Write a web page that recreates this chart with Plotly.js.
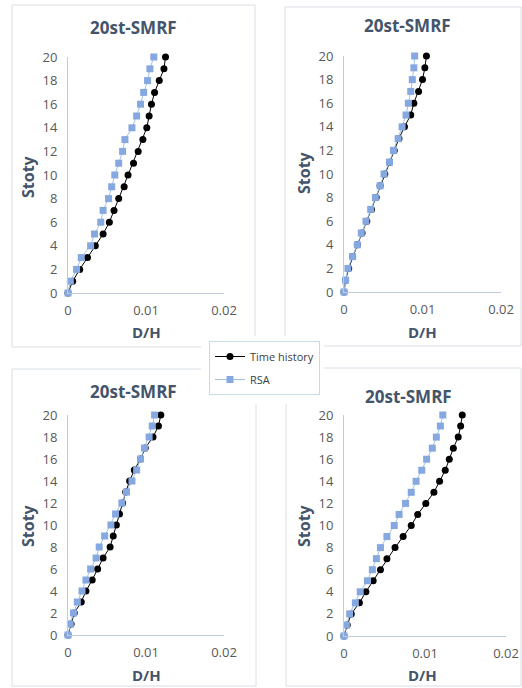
<!DOCTYPE html>
<html>
<head>
<meta charset="utf-8">
<script src="https://cdn.plot.ly/plotly-3.0.1.min.js"></script>
<style>
  html, body { margin: 0; padding: 0; background: #ffffff; }
  #chart { width: 522px; height: 688px; }
</style>
</head>
<body>
<div id="chart"></div>
<script>
// Story levels (0 = base, 20 = roof)
const stories = [0, 1, 2, 3, 4, 5, 6, 7, 8, 9, 10, 11, 12, 13, 14, 15, 16, 17, 18, 19, 20];

// Drift ratio D/H per story, four record sets
const th1  = [0, 0.0006, 0.0015, 0.0025, 0.0035, 0.0045, 0.0053, 0.0059, 0.0065, 0.0072, 0.0077, 0.0084, 0.0090, 0.0096, 0.0101, 0.0104, 0.0107, 0.0111, 0.0117, 0.0123, 0.0125];
const rsa1 = [0, 0.0003, 0.0011, 0.0017, 0.0029, 0.0034, 0.0042, 0.0045, 0.0052, 0.0056, 0.0060, 0.0065, 0.0070, 0.0073, 0.0082, 0.0088, 0.0093, 0.0097, 0.0102, 0.0105, 0.0110];

const th2  = [0, 0.0002, 0.0006, 0.0011, 0.0017, 0.0023, 0.0029, 0.0035, 0.0041, 0.0046, 0.0052, 0.0058, 0.0064, 0.0070, 0.0077, 0.0085, 0.0089, 0.0095, 0.0100, 0.0103, 0.0105];
const rsa2 = [0, 0.0002, 0.0005, 0.0011, 0.0017, 0.0022, 0.0028, 0.0034, 0.0040, 0.0046, 0.0051, 0.0058, 0.0063, 0.0069, 0.0074, 0.0079, 0.0082, 0.0085, 0.0087, 0.0089, 0.0090];

const th3  = [0, 0.0004, 0.0008, 0.0017, 0.0023, 0.0031, 0.0038, 0.0045, 0.0054, 0.0058, 0.0062, 0.0066, 0.0070, 0.0074, 0.0079, 0.0085, 0.0093, 0.0099, 0.0109, 0.0116, 0.0119];
const rsa3 = [0, 0.0003, 0.0007, 0.0012, 0.0018, 0.0023, 0.0029, 0.0036, 0.0040, 0.0047, 0.0055, 0.0061, 0.0069, 0.0075, 0.0082, 0.0088, 0.0093, 0.0098, 0.0104, 0.0108, 0.0111];

const th4  = [0, 0.0004, 0.0009, 0.0019, 0.0027, 0.0036, 0.0045, 0.0053, 0.0063, 0.0073, 0.0083, 0.0091, 0.0101, 0.0111, 0.0118, 0.0125, 0.0130, 0.0135, 0.0141, 0.0144, 0.0146];
const rsa4 = [0, 0.0003, 0.0007, 0.0014, 0.0020, 0.0029, 0.0035, 0.0040, 0.0045, 0.0053, 0.0062, 0.0068, 0.0076, 0.0083, 0.0089, 0.0096, 0.0102, 0.0109, 0.0114, 0.0119, 0.0122];

const seriesNames = ['Time history', 'RSA'];
const panelTitle = '20st-SMRF';
const xTitle = 'D/H';
const yTitle = 'Stoty';
const xTicks = [0, 0.01, 0.02];
const xTickText = ['0', '0.01', '0.02'];
const yTicks = [0, 2, 4, 6, 8, 10, 12, 14, 16, 18, 20];

const W = 522, H = 688;
const px = v => v / W;
const py = v => 1 - v / H;

const BLACK = '#000000';
const BLUE = '#86A8E0';
const TEXT = '#44546A';
const TICK = '#595959';
const AXIS = '#BFCADC';
const FRAME = '#D9DEE6';

// Panel geometry in pixels: plot area + frame + label anchors
const panels = [
  { th: th1, rsa: rsa1, x0: 68,  x1: 224, yb: 293, yt: 57,  frame: [12, 5, 255, 347],  title: [133, 28],  xt: [146, 332], yt2: [28, 177] },
  { th: th2, rsa: rsa2, x0: 344, x1: 501, yb: 292, yt: 56,  frame: [285, 7, 521, 346], title: [407, 26],  xt: [422, 332], yt2: [304, 173] },
  { th: th3, rsa: rsa3, x0: 68,  x1: 224, yb: 635, yt: 415, frame: [12, 369, 256, 686], title: [133, 391], xt: [146, 675], yt2: [28, 526] },
  { th: th4, rsa: rsa4, x0: 344, x1: 506, yb: 636, yt: 415, frame: [286, 368, 521, 686], title: [408, 396], xt: [422, 675], yt2: [304, 526] }
];

const data = [];
const layout = {
  width: W, height: H,
  margin: { l: 0, r: 0, t: 0, b: 0 },
  paper_bgcolor: '#ffffff',
  plot_bgcolor: 'rgba(0,0,0,0)',
  font: { family: 'Open Sans, Liberation Sans, sans-serif', color: TICK },
  showlegend: true,
  legend: {
    x: px(209), y: py(341), xanchor: 'left', yanchor: 'top',
    bgcolor: '#ffffff', bordercolor: '#C6DCE4', borderwidth: 1,
    font: { size: 11, color: '#404040' },
    itemwidth: 30, tracegroupgap: 4
  },
  shapes: [],
  annotations: []
};

panels.forEach((p, i) => {
  const n = i === 0 ? '' : String(i + 1);
  const xa = 'x' + n, ya = 'y' + n;
  data.push({
    x: p.th, y: stories, xaxis: xa, yaxis: ya,
    name: seriesNames[0], legendgroup: 'th', showlegend: i === 0,
    mode: 'lines+markers', cliponaxis: false,
    line: { color: BLACK, width: 1 },
    marker: { color: BLACK, size: 7, symbol: 'circle' }
  });
  data.push({
    x: p.rsa, y: stories, xaxis: xa, yaxis: ya,
    name: seriesNames[1], legendgroup: 'rsa', showlegend: i === 0,
    mode: 'lines+markers', cliponaxis: false,
    line: { color: '#9DC3E6', width: 1 },
    marker: { color: BLUE, size: 7, symbol: 'square' }
  });

  const axBase = {
    showgrid: false, zeroline: false, showline: true,
    linecolor: AXIS, linewidth: 1, ticks: '',
    tickfont: { size: 13, color: TICK }, fixedrange: true
  };
  layout['xaxis' + n] = Object.assign({}, axBase, {
    domain: [px(p.x0), px(p.x1)], anchor: ya, range: [0, 0.02],
    tickmode: 'array', tickvals: xTicks, ticktext: xTickText,
    ticklabelstandoff: 5
  });
  layout['yaxis' + n] = Object.assign({}, axBase, {
    domain: [py(p.yb), py(p.yt)], anchor: xa, range: [0, 20],
    tickmode: 'array', tickvals: yTicks,
    ticklabelstandoff: 7
  });

  // panel frame
  layout.shapes.push({
    type: 'rect', xref: 'paper', yref: 'paper', layer: 'below',
    x0: px(p.frame[0]), x1: px(p.frame[2]), y0: py(p.frame[3]), y1: py(p.frame[1]),
    line: { color: FRAME, width: 1 }, fillcolor: 'rgba(0,0,0,0)'
  });

  layout.annotations.push({
    text: panelTitle, xref: 'paper', yref: 'paper',
    x: px(p.title[0]), y: py(p.title[1]), xanchor: 'center', yanchor: 'middle',
    showarrow: false, font: { size: 17, color: TEXT, family: 'Open Sans, sans-serif', weight: 'bold' }
  });
  layout.annotations.push({
    text: xTitle, xref: 'paper', yref: 'paper',
    x: px(p.xt[0]), y: py(p.xt[1]), xanchor: 'center', yanchor: 'middle',
    showarrow: false, font: { size: 15, color: TEXT, family: 'Open Sans, sans-serif', weight: 'bold' }
  });
  layout.annotations.push({
    text: yTitle, xref: 'paper', yref: 'paper', textangle: -90,
    x: px(p.yt2[0]), y: py(p.yt2[1]), xanchor: 'center', yanchor: 'middle',
    showarrow: false, font: { size: 16, color: TEXT, family: 'Open Sans, sans-serif', weight: 'bold' }
  });
});

// white backing behind the legend, hiding frame lines underneath
layout.shapes.push({
  type: 'rect', xref: 'paper', yref: 'paper', layer: 'above',
  x0: px(201), x1: px(324), y0: py(404), y1: py(336),
  line: { width: 0 }, fillcolor: '#ffffff'
});

Plotly.newPlot('chart', data, layout, { staticPlot: true, displayModeBar: false });
</script>
</body>
</html>
